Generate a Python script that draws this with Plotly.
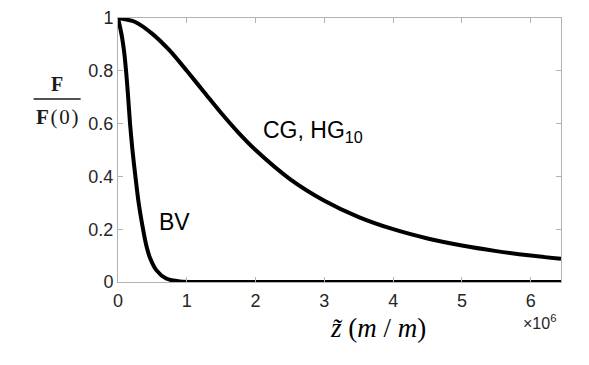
import plotly.graph_objects as go

# Data (z in units of 1e6 m/m)
cg_z = [0, 0.25, 0.5, 0.75, 1.0, 1.25, 1.5, 1.75, 2.0, 2.5, 3.0, 3.5, 4.0, 4.5, 5.0, 5.5, 6.0, 6.44]
cg_f = [1.0, 0.985, 0.94, 0.877, 0.80, 0.72, 0.64, 0.566, 0.50, 0.39, 0.308, 0.246, 0.20, 0.165, 0.138, 0.117, 0.10, 0.088]

bv_z = [0, 0.03, 0.06, 0.09, 0.117, 0.145, 0.175, 0.21, 0.253, 0.30, 0.364, 0.41, 0.46, 0.56, 0.70, 0.90, 1.2, 2.0, 3.0, 4.0, 5.0, 6.0, 6.44]
bv_f = [1.0, 0.965, 0.925, 0.87, 0.80, 0.71, 0.60, 0.50, 0.40, 0.30, 0.20, 0.14, 0.095, 0.044, 0.013, 0.002, 0.0, 0.0, 0.0, 0.0, 0.0, 0.0, 0.0]

x_ticks = [0, 1, 2, 3, 4, 5, 6]
x_ticklabels = ["0", "1", "2", "3", "4", "5", "6"]
y_ticks = [0, 0.2, 0.4, 0.6, 0.8, 1]
y_ticklabels = ["0", "0.2", "0.4", "0.6", "0.8", "1"]

OFF = 8  # page body margin
W, H = 589 - OFF, 365 - OFF
L, R, T, B = 118.3, 561.0, 18.3, 281.7   # plot area in window pixels
fy = lambda py: (B - py) / (B - T)
fx = lambda px: (px - L) / (R - L)

fig = go.Figure()
fig.add_trace(go.Scatter(x=cg_z, y=cg_f, mode="lines",
                         line=dict(color="black", width=4, shape="spline", smoothing=0.8),
                         showlegend=False))
fig.add_trace(go.Scatter(x=bv_z, y=bv_f, mode="lines",
                         line=dict(color="black", width=4, shape="spline", smoothing=0.8),
                         showlegend=False))

axis_common = dict(showline=True, linecolor="#b3b3b3", linewidth=1, mirror="ticks",
                   ticks="inside", ticklen=5, tickcolor="#b3b3b3", showgrid=False,
                   zeroline=False, automargin=False,
                   tickfont=dict(family="Liberation Sans, Arial", size=18, color="#262626"))

fig.update_xaxes(range=[0, 6.44], tickvals=x_ticks, ticktext=x_ticklabels, ticklabelstandoff=2, **axis_common)
fig.update_yaxes(range=[0, 1], tickvals=y_ticks, ticktext=y_ticklabels, **axis_common)

def ann(text, px, py, size, family="Liberation Sans, Arial", color="black"):
    fig.add_annotation(text=text, xref="paper", yref="paper", x=fx(px), y=fy(py),
                       xanchor="center", yanchor="middle", showarrow=False,
                       font=dict(family=family, size=size, color=color))

ann("CG, HG<sub>10</sub>", 313.5, 132, 23)
ann("BV", 174.5, 221.5, 23)
ann("<i>z̃</i> (<i>m</i> / <i>m</i>)", 378, 328, 27, family="Liberation Serif, Times New Roman")
ann("×10<sup>6</sup>", 540, 322, 16, color="#262626")

# y-axis label as fraction F / F(0)
ann("<b>F</b>", 57.5, 84.5, 20, family="Liberation Serif, Times New Roman", color="#1a1a1a")
ann("<b>F</b>\u200a(\u200a0\u200a)", 58, 117.5, 21, family="Liberation Serif, Times New Roman", color="#1a1a1a")
fig.add_shape(type="line", xref="paper", yref="paper", x0=fx(34), x1=fx(81), y0=fy(99), y1=fy(99),
              line=dict(color="#1a1a1a", width=1.5))

fig.update_layout(width=W, height=H, plot_bgcolor="white", paper_bgcolor="white",
                  margin=dict(l=L - OFF, r=589 - R, t=T - OFF, b=365 - B, autoexpand=False))

fig.write_html("out.html")
